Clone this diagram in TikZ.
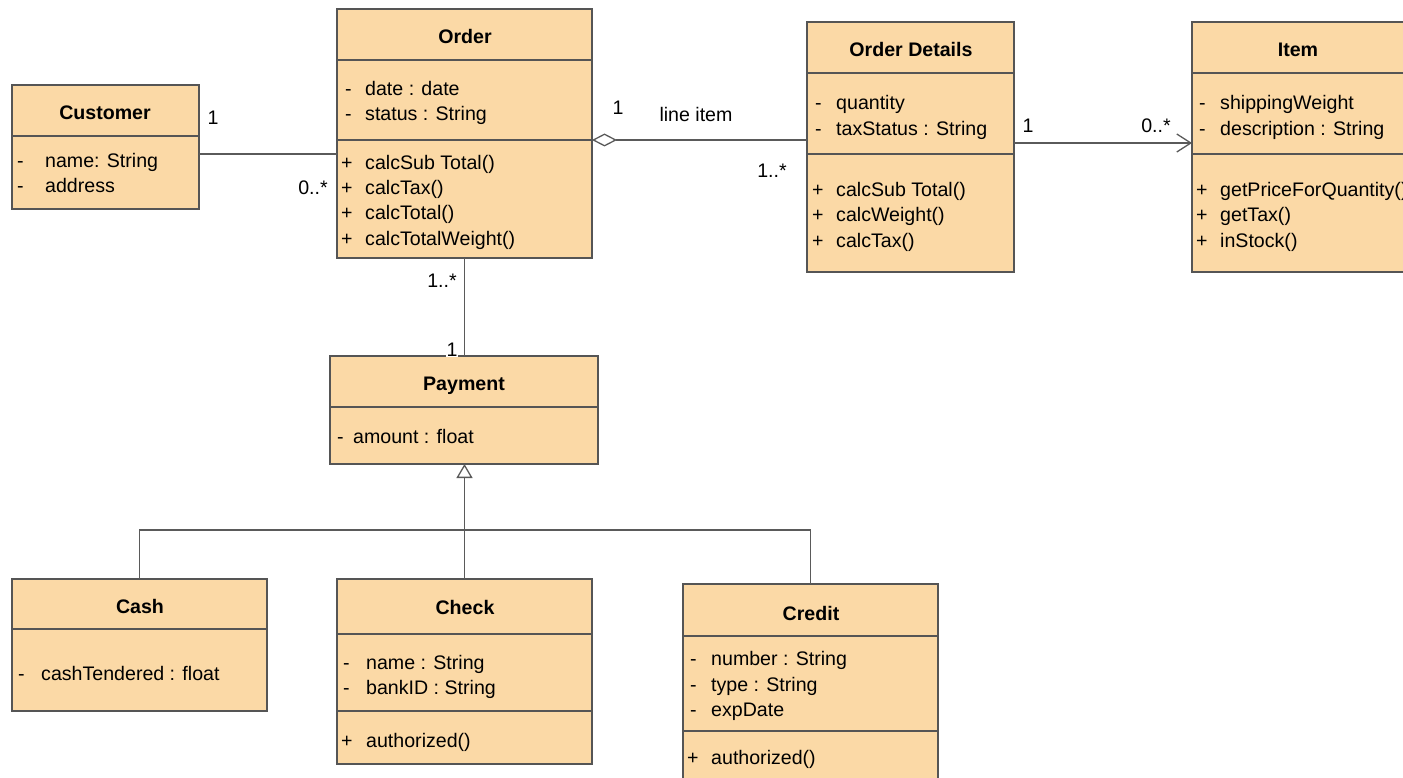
\documentclass[tikz,border=0pt]{standalone}
\usepackage{fontspec}
\setmainfont{Liberation Sans}
\usetikzlibrary{arrows.meta}
\definecolor{clsfill}{RGB}{251,217,166}
\definecolor{clsline}{RGB}{85,85,85}
\definecolor{conline}{RGB}{90,90,90}
\begin{document}
\begin{tikzpicture}[x=1pt,y=-1pt,
  cls/.style={draw=clsline, fill=clsfill, line width=1.4pt, inner sep=0pt, outer sep=0pt, anchor=north west},
  divider/.style={draw=clsline, line width=1.4pt},
  title/.style={font=\fontsize{19.6}{23}\selectfont\bfseries, inner sep=0pt, anchor=mid, yshift=-4.5pt},
  txt/.style={font=\fontsize{19.6}{23}\selectfont, inner sep=0pt, anchor=mid west, yshift=-4.5pt},
  lbl/.style={font=\fontsize{19.6}{23}\selectfont, inner sep=0pt, anchor=mid, yshift=-4.5pt},
  con/.style={draw=conline, line width=1.3pt}]
\useasboundingbox (0,0) rectangle (1403,778);
\fill[white] (0,0) rectangle (1403,778);

% ---------- Customer ----------
\node[cls, minimum width=187pt, minimum height=124pt] (customer) at (12,85) {};
\draw[divider] (customer.west |- 0,136) -- (customer.east |- 0,136);
\node[title] (customerT) at (105,112) {Customer};
\node[txt] (cu1d) at (17,160) {-};
\node[txt] (cu1) at (45,160) {name: String};
\node[txt] (cu2d) at (17,185) {-};
\node[txt] (cu2) at (45,185) {address};

% ---------- Order ----------
\node[cls, minimum width=255pt, minimum height=249pt] (order) at (337,9) {};
\draw[divider] (order.west |- 0,60) -- (order.east |- 0,60);
\draw[divider] (order.west |- 0,140) -- (order.east |- 0,140);
\node[title] (orderT) at (465,36) {Order};
\node[txt] (o1d) at (345,88) {-};
\node[txt] (o1) at (365,88) {date : date};
\node[txt] (o2d) at (345,113) {-};
\node[txt] (o2) at (365,113) {status : String};
\node[txt] (o3d) at (341,162) {+};
\node[txt] (o3) at (365,162) {calcSub Total()};
\node[txt] (o4d) at (341,187) {+};
\node[txt] (o4) at (365,187) {calcTax()};
\node[txt] (o5d) at (341,212) {+};
\node[txt] (o5) at (365,212) {calcTotal()};
\node[txt] (o6d) at (341,238) {+};
\node[txt] (o6) at (365,238) {calcTotalWeight()};

% ---------- Order Details ----------
\node[cls, minimum width=207pt, minimum height=250pt] (details) at (807,22) {};
\draw[divider] (details.west |- 0,73) -- (details.east |- 0,73);
\draw[divider] (details.west |- 0,154) -- (details.east |- 0,154);
\node[title] (detailsT) at (911,49) {Order Details};
\node[txt] (d1d) at (815,102) {-};
\node[txt] (d1) at (836,102) {quantity};
\node[txt] (d2d) at (815,128) {-};
\node[txt] (d2) at (836,128) {taxStatus : String};
\node[txt] (d3d) at (812,189) {+};
\node[txt] (d3) at (836,189) {calcSub Total()};
\node[txt] (d4d) at (812,214) {+};
\node[txt] (d4) at (836,214) {calcWeight()};
\node[txt] (d5d) at (812,240) {+};
\node[txt] (d5) at (836,240) {calcTax()};

% ---------- Item ----------
\node[cls, minimum width=214pt, minimum height=250pt] (item) at (1192,22) {};
\draw[divider] (item.west |- 0,73) -- (item.east |- 0,73);
\draw[divider] (item.west |- 0,154) -- (item.east |- 0,154);
\node[title] (itemT) at (1298,49) {Item};
\node[txt] (i1d) at (1199,102) {-};
\node[txt] (i1) at (1220,102) {shippingWeight};
\node[txt] (i2d) at (1199,128) {-};
\node[txt] (i2) at (1220,128) {description : String};
\node[txt] (i3d) at (1196,189) {+};
\node[txt] (i3) at (1220,189) {getPriceForQuantity()};
\node[txt] (i4d) at (1196,214) {+};
\node[txt] (i4) at (1220,214) {getTax()};
\node[txt] (i5d) at (1196,240) {+};
\node[txt] (i5) at (1220,240) {inStock()};

% ---------- Payment ----------
\node[cls, minimum width=268pt, minimum height=108pt] (payment) at (330,356) {};
\draw[divider] (payment.west |- 0,407) -- (payment.east |- 0,407);
\node[title] (paymentT) at (464,383) {Payment};
\node[txt] (p1d) at (337,436) {-};
\node[txt] (p1) at (353,436) {amount : float};

% ---------- Cash ----------
\node[cls, minimum width=255pt, minimum height=132pt] (cash) at (12,579) {};
\draw[divider] (cash.west |- 0,629) -- (cash.east |- 0,629);
\node[title] (cashT) at (140,606) {Cash};
\node[txt] (ca1d) at (18,673) {-};
\node[txt] (ca1) at (41,673) {cashTendered : float};

% ---------- Check ----------
\node[cls, minimum width=255pt, minimum height=185pt] (check) at (337,579) {};
\draw[divider] (check.west |- 0,634) -- (check.east |- 0,634);
\draw[divider] (check.west |- 0,711) -- (check.east |- 0,711);
\node[title] (checkT) at (465,607) {Check};
\node[txt] (ch1d) at (343,662) {-};
\node[txt] (ch1) at (366,662) {name : String};
\node[txt] (ch2d) at (343,687) {-};
\node[txt] (ch2) at (366,687) {bankID : String};
\node[txt] (ch3d) at (341,740) {+};
\node[txt] (ch3) at (366,740) {authorized()};

% ---------- Credit ----------
\node[cls, minimum width=255pt, minimum height=210pt] (credit) at (683,584) {};
\draw[divider] (credit.west |- 0,636) -- (credit.east |- 0,636);
\draw[divider] (credit.west |- 0,731) -- (credit.east |- 0,731);
\node[title] (creditT) at (811,613) {Credit};
\node[txt] (cr1d) at (690,658) {-};
\node[txt] (cr1) at (711,658) {number : String};
\node[txt] (cr2d) at (690,684) {-};
\node[txt] (cr2) at (711,684) {type : String};
\node[txt] (cr3d) at (690,709) {-};
\node[txt] (cr3) at (711,709) {expDate};
\node[txt] (cr4d) at (687,757) {+};
\node[txt] (cr4) at (711,757) {authorized()};

% ---------- Connectors ----------
\draw[con] (customer.east |- 0,154) -- (order.west |- 0,154);
\draw[con, {Diamond[open, fill=white, length=25pt, width=13pt, line width=1.3pt]}-] (order.east |- 0,140) -- (details.west |- 0,140);
\draw[con, -{Straight Barb[length=14pt, width=18pt, line width=1.3pt]}] (details.east |- 0,143) -- (item.west |- 0,143);
\draw[con] (order.south) -- (order.south |- payment.north);
\draw[con, -{Triangle[open, fill=white, length=14pt, width=16pt, line width=1.3pt]}] (check.north) -- (check.north |- payment.south);
\coordinate (busL) at (cash.north |- 0,530);
\coordinate (busR) at (credit.north |- 0,530);
\draw[con] (cash.north) -- (busL) -- (busR) -- (credit.north);

% ---------- Multiplicity labels ----------
\node[lbl] (m1) at (213,117) {1};
\node[lbl] (m2) at (313,187) {0..*};
\node[lbl] (m3) at (618,107) {1};
\node[lbl] (m4) at (696,114) {line item};
\node[lbl] (m5) at (772,170) {1..*};
\node[lbl] (m6) at (1028,125) {1};
\node[lbl] (m7) at (1156,125) {0..*};
\node[lbl] (m8) at (442,280) {1..*};
\node[lbl, fill=white, inner sep=1pt] (m9) at (452,349) {1};
\end{tikzpicture}
\end{document}
